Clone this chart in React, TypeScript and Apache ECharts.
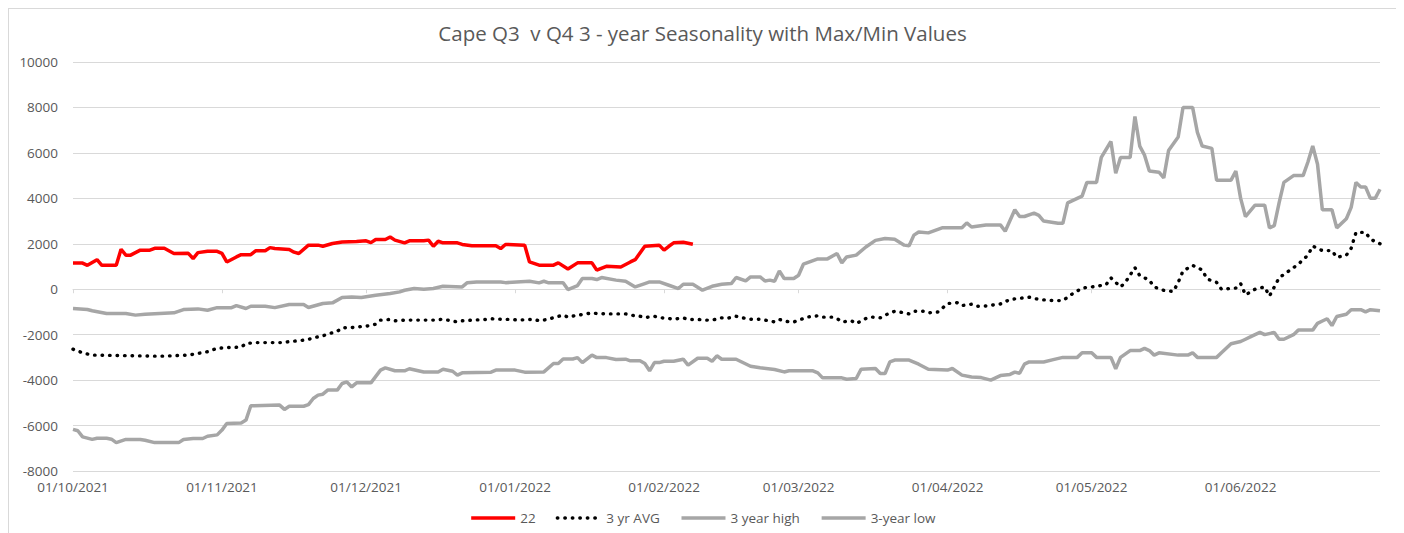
import React, { useEffect, useRef } from "react";
import * as echarts from "echarts";

const titleText = "Cape Q3  v Q4 3 - year Seasonality with Max/Min Values";
const seriesNames = ["22", "3 yr AVG", "3 year high", "3-year low"];
const yTicks = { min: -8000, max: 10000, interval: 2000 };

// daily categories 01/10/2021 .. 30/06/2022
const categories: string[] = [];
for (let i = 0; i < 273; i++) {
  const dt = new Date(Date.UTC(2021, 9, 1 + i));
  const dd = String(dt.getUTCDate()).padStart(2, "0");
  const mm = String(dt.getUTCMonth() + 1).padStart(2, "0");
  categories.push(`${dd}/${mm}/${dt.getUTCFullYear()}`);
}

const s22: [string, number][] = [
  ["01/10/2021", 1150], ["03/10/2021", 1150], ["04/10/2021", 1050], ["06/10/2021", 1300],
  ["07/10/2021", 1050], ["10/10/2021", 1050], ["11/10/2021", 1760], ["12/10/2021", 1500],
  ["13/10/2021", 1500], ["15/10/2021", 1720], ["17/10/2021", 1720], ["18/10/2021", 1800],
  ["20/10/2021", 1800], ["22/10/2021", 1570], ["25/10/2021", 1580], ["26/10/2021", 1350],
  ["27/10/2021", 1610], ["29/10/2021", 1670], ["31/10/2021", 1670], ["01/11/2021", 1580],
  ["02/11/2021", 1200], ["04/11/2021", 1420], ["05/11/2021", 1520], ["07/11/2021", 1520],
  ["08/11/2021", 1690], ["10/11/2021", 1690], ["11/11/2021", 1830], ["12/11/2021", 1790],
  ["15/11/2021", 1750], ["16/11/2021", 1630], ["17/11/2021", 1570], ["19/11/2021", 1940],
  ["21/11/2021", 1940], ["22/11/2021", 1890], ["24/11/2021", 2010], ["26/11/2021", 2080],
  ["29/11/2021", 2100], ["01/12/2021", 2130], ["02/12/2021", 2050], ["03/12/2021", 2190],
  ["05/12/2021", 2190], ["06/12/2021", 2300], ["07/12/2021", 2160], ["09/12/2021", 2040],
  ["10/12/2021", 2130], ["13/12/2021", 2130], ["14/12/2021", 2160], ["15/12/2021", 1890],
  ["16/12/2021", 2110], ["17/12/2021", 2040], ["20/12/2021", 2040], ["21/12/2021", 1970],
  ["23/12/2021", 1910], ["28/12/2021", 1910], ["29/12/2021", 1790], ["30/12/2021", 1970],
  ["03/01/2022", 1940], ["04/01/2022", 1200], ["06/01/2022", 1060], ["09/01/2022", 1060],
  ["10/01/2022", 1160], ["12/01/2022", 890], ["14/01/2022", 1160], ["17/01/2022", 1160],
  ["18/01/2022", 840], ["20/01/2022", 1010], ["23/01/2022", 980], ["25/01/2022", 1200],
  ["26/01/2022", 1300], ["28/01/2022", 1890], ["31/01/2022", 1940], ["01/02/2022", 1720],
  ["02/02/2022", 1890], ["03/02/2022", 2040], ["05/02/2022", 2070], ["07/02/2022", 1980],
];

const sAvg: [string, number][] = [
  ["01/10/2021", -2640], ["03/10/2021", -2800], ["05/10/2021", -2900], ["11/10/2021", -2920],
  ["19/10/2021", -2950], ["25/10/2021", -2900], ["29/10/2021", -2750], ["31/10/2021", -2600],
  ["02/11/2021", -2570], ["05/11/2021", -2550], ["06/11/2021", -2390], ["08/11/2021", -2350],
  ["14/11/2021", -2350], ["15/11/2021", -2300], ["17/11/2021", -2270], ["19/11/2021", -2210],
  ["20/11/2021", -2140], ["22/11/2021", -2050], ["23/11/2021", -1980], ["25/11/2021", -1850],
  ["26/11/2021", -1700], ["28/11/2021", -1690], ["29/11/2021", -1660], ["01/12/2021", -1630],
  ["03/12/2021", -1540], ["04/12/2021", -1360], ["06/12/2021", -1330], ["07/12/2021", -1390],
  ["09/12/2021", -1360], ["15/12/2021", -1360], ["17/12/2021", -1320], ["18/12/2021", -1360],
  ["20/12/2021", -1440], ["21/12/2021", -1390], ["23/12/2021", -1360], ["26/12/2021", -1330],
  ["27/12/2021", -1300], ["29/12/2021", -1320], ["31/12/2021", -1330], ["02/01/2022", -1360],
  ["03/01/2022", -1340], ["05/01/2022", -1330], ["06/01/2022", -1390], ["08/01/2022", -1320],
  ["09/01/2022", -1250], ["11/01/2022", -1140], ["12/01/2022", -1230], ["14/01/2022", -1140],
  ["15/01/2022", -1115], ["17/01/2022", -1040], ["18/01/2022", -1070], ["20/01/2022", -1085],
  ["22/01/2022", -1085], ["24/01/2022", -1085], ["25/01/2022", -1140], ["27/01/2022", -1190],
  ["28/01/2022", -1250], ["30/01/2022", -1190], ["31/01/2022", -1250], ["02/02/2022", -1290],
  ["03/02/2022", -1320], ["05/02/2022", -1260], ["06/02/2022", -1330], ["08/02/2022", -1330],
  ["10/02/2022", -1360], ["11/02/2022", -1360], ["13/02/2022", -1260], ["14/02/2022", -1290],
  ["16/02/2022", -1190], ["18/02/2022", -1290], ["19/02/2022", -1320], ["21/02/2022", -1320],
  ["22/02/2022", -1360], ["24/02/2022", -1440], ["25/02/2022", -1330], ["27/02/2022", -1440],
  ["28/02/2022", -1440], ["02/03/2022", -1290], ["03/03/2022", -1220], ["05/03/2022", -1170],
  ["06/03/2022", -1230], ["08/03/2022", -1230], ["09/03/2022", -1290], ["10/03/2022", -1440],
  ["12/03/2022", -1390], ["13/03/2022", -1510], ["15/03/2022", -1290], ["16/03/2022", -1220],
  ["18/03/2022", -1260], ["19/03/2022", -1140], ["21/03/2022", -970], ["22/03/2022", -1000],
  ["24/03/2022", -1085], ["25/03/2022", -970], ["27/03/2022", -970], ["28/03/2022", -1040],
  ["30/03/2022", -1000], ["31/03/2022", -820], ["01/04/2022", -630], ["03/04/2022", -590],
  ["04/04/2022", -720], ["06/04/2022", -660], ["07/04/2022", -750], ["09/04/2022", -735],
  ["12/04/2022", -650], ["14/04/2022", -450], ["16/04/2022", -400], ["18/04/2022", -350],
  ["20/04/2022", -450], ["23/04/2022", -500], ["25/04/2022", -500], ["27/04/2022", -200],
  ["29/04/2022", 50], ["01/05/2022", 100], ["04/05/2022", 200], ["05/05/2022", 500],
  ["07/05/2022", 100], ["08/05/2022", 300], ["10/05/2022", 950], ["11/05/2022", 600],
  ["13/05/2022", 400], ["14/05/2022", 100], ["16/05/2022", -50], ["18/05/2022", -100],
  ["19/05/2022", 300], ["20/05/2022", 800], ["22/05/2022", 1050], ["24/05/2022", 850],
  ["25/05/2022", 450], ["27/05/2022", 300], ["28/05/2022", 0], ["31/05/2022", 50],
  ["01/06/2022", 250], ["02/06/2022", -250], ["04/06/2022", 0], ["06/06/2022", 100],
  ["07/06/2022", -300], ["09/06/2022", 500], ["11/06/2022", 800], ["13/06/2022", 1100],
  ["15/06/2022", 1500], ["16/06/2022", 1900], ["18/06/2022", 1700], ["20/06/2022", 1700],
  ["21/06/2022", 1400], ["23/06/2022", 1500], ["24/06/2022", 1800], ["25/06/2022", 2500],
  ["27/06/2022", 2500], ["28/06/2022", 2200], ["30/06/2022", 2000],
];

const sHigh: [string, number][] = [
  ["01/10/2021", -850], ["04/10/2021", -895], ["05/10/2021", -950], ["08/10/2021", -1070],
  ["12/10/2021", -1070], ["14/10/2021", -1140], ["16/10/2021", -1100], ["19/10/2021", -1070],
  ["22/10/2021", -1040], ["24/10/2021", -895], ["27/10/2021", -865], ["29/10/2021", -925],
  ["31/10/2021", -810], ["03/11/2021", -810], ["04/11/2021", -720], ["06/11/2021", -850],
  ["07/11/2021", -750], ["10/11/2021", -750], ["12/11/2021", -810], ["15/11/2021", -675],
  ["18/11/2021", -675], ["19/11/2021", -805], ["22/11/2021", -630], ["24/11/2021", -600],
  ["26/11/2021", -365], ["28/11/2021", -340], ["30/11/2021", -365], ["03/12/2021", -264],
  ["06/12/2021", -190], ["08/12/2021", -117], ["09/12/2021", -44], ["11/12/2021", 30],
  ["13/12/2021", 0], ["15/12/2021", 30], ["17/12/2021", 130], ["21/12/2021", 100],
  ["22/12/2021", 280], ["24/12/2021", 320], ["29/12/2021", 320], ["30/12/2021", 290],
  ["04/01/2022", 350], ["06/01/2022", 280], ["07/01/2022", 350], ["08/01/2022", 280],
  ["11/01/2022", 290], ["12/01/2022", -15], ["14/01/2022", 160], ["15/01/2022", 470],
  ["17/01/2022", 470], ["18/01/2022", 425], ["19/01/2022", 515], ["22/01/2022", 400],
  ["24/01/2022", 350], ["26/01/2022", 100], ["28/01/2022", 250], ["29/01/2022", 320],
  ["31/01/2022", 320], ["02/02/2022", 175], ["04/02/2022", 30], ["05/02/2022", 220],
  ["07/02/2022", 220], ["09/02/2022", -44], ["11/02/2022", 130], ["13/02/2022", 220],
  ["15/02/2022", 250], ["16/02/2022", 515], ["18/02/2022", 365], ["19/02/2022", 540],
  ["21/02/2022", 540], ["22/02/2022", 365], ["23/02/2022", 400], ["24/02/2022", 350],
  ["25/02/2022", 805], ["26/02/2022", 470], ["28/02/2022", 470], ["01/03/2022", 615],
  ["02/03/2022", 1100], ["05/03/2022", 1335], ["07/03/2022", 1335], ["09/03/2022", 1570],
  ["10/03/2022", 1160], ["11/03/2022", 1420], ["13/03/2022", 1500], ["15/03/2022", 1860],
  ["17/03/2022", 2150], ["19/03/2022", 2230], ["21/03/2022", 2200], ["23/03/2022", 1940],
  ["24/03/2022", 1910], ["25/03/2022", 2380], ["26/03/2022", 2520], ["28/03/2022", 2480],
  ["31/03/2022", 2710], ["04/04/2022", 2710], ["05/04/2022", 2920], ["06/04/2022", 2740],
  ["09/04/2022", 2830], ["12/04/2022", 2830], ["13/04/2022", 2550], ["15/04/2022", 3500],
  ["16/04/2022", 3200], ["17/04/2022", 3200], ["19/04/2022", 3350], ["20/04/2022", 3250],
  ["21/04/2022", 3000], ["24/04/2022", 2900], ["25/04/2022", 2900], ["26/04/2022", 3800],
  ["28/04/2022", 4000], ["29/04/2022", 4100], ["30/04/2022", 4700], ["02/05/2022", 4700],
  ["03/05/2022", 5800], ["05/05/2022", 6500], ["06/05/2022", 5100], ["07/05/2022", 5800],
  ["09/05/2022", 5800], ["10/05/2022", 7600], ["11/05/2022", 6300], ["12/05/2022", 5900],
  ["13/05/2022", 5200], ["15/05/2022", 5150], ["16/05/2022", 4900], ["17/05/2022", 6100],
  ["19/05/2022", 6700], ["20/05/2022", 8000], ["22/05/2022", 8000], ["23/05/2022", 6900],
  ["24/05/2022", 6300], ["26/05/2022", 6200], ["27/05/2022", 4800], ["30/05/2022", 4800],
  ["31/05/2022", 5200], ["01/06/2022", 4000], ["02/06/2022", 3200], ["04/06/2022", 3700],
  ["06/06/2022", 3700], ["07/06/2022", 2700], ["08/06/2022", 2800], ["09/06/2022", 3800],
  ["10/06/2022", 4700], ["12/06/2022", 5000], ["14/06/2022", 5000], ["15/06/2022", 5600],
  ["16/06/2022", 6300], ["17/06/2022", 5500], ["18/06/2022", 3500], ["20/06/2022", 3500],
  ["21/06/2022", 2700], ["23/06/2022", 3100], ["24/06/2022", 3600], ["25/06/2022", 4700],
  ["26/06/2022", 4500], ["27/06/2022", 4500], ["28/06/2022", 4000], ["29/06/2022", 4000],
  ["30/06/2022", 4400],
];

const sLow: [string, number][] = [
  ["01/10/2021", -6170], ["02/10/2021", -6230], ["03/10/2021", -6500], ["05/10/2021", -6610],
  ["06/10/2021", -6560], ["08/10/2021", -6560], ["09/10/2021", -6600], ["10/10/2021", -6750],
  ["12/10/2021", -6610], ["15/10/2021", -6610], ["16/10/2021", -6645], ["18/10/2021", -6750],
  ["23/10/2021", -6750], ["24/10/2021", -6610], ["26/10/2021", -6570], ["28/10/2021", -6570],
  ["29/10/2021", -6470], ["31/10/2021", -6410], ["01/11/2021", -6200], ["02/11/2021", -5910],
  ["05/11/2021", -5890], ["06/11/2021", -5760], ["07/11/2021", -5130], ["13/11/2021", -5100],
  ["14/11/2021", -5290], ["15/11/2021", -5150], ["18/11/2021", -5150], ["19/11/2021", -5080],
  ["20/11/2021", -4810], ["21/11/2021", -4660], ["22/11/2021", -4620], ["23/11/2021", -4440],
  ["25/11/2021", -4440], ["26/11/2021", -4150], ["27/11/2021", -4080], ["28/11/2021", -4300],
  ["29/11/2021", -4120], ["02/12/2021", -4120], ["04/12/2021", -3560], ["05/12/2021", -3460],
  ["07/12/2021", -3590], ["09/12/2021", -3590], ["10/12/2021", -3500], ["13/12/2021", -3640],
  ["16/12/2021", -3640], ["17/12/2021", -3520], ["19/12/2021", -3610], ["20/12/2021", -3780],
  ["21/12/2021", -3680], ["27/12/2021", -3650], ["28/12/2021", -3560], ["01/01/2022", -3560],
  ["03/01/2022", -3650], ["07/01/2022", -3640], ["09/01/2022", -3270], ["10/01/2022", -3270],
  ["11/01/2022", -3070], ["13/01/2022", -3070], ["14/01/2022", -3010], ["15/01/2022", -3230],
  ["17/01/2022", -2900], ["18/01/2022", -3010], ["20/01/2022", -3010], ["22/01/2022", -3090],
  ["24/01/2022", -3080], ["25/01/2022", -3150], ["27/01/2022", -3150], ["28/01/2022", -3270],
  ["29/01/2022", -3590], ["30/01/2022", -3230], ["31/01/2022", -3230], ["01/02/2022", -3170],
  ["03/02/2022", -3170], ["05/02/2022", -3080], ["06/02/2022", -3340], ["08/02/2022", -3040],
  ["10/02/2022", -3040], ["11/02/2022", -3170], ["12/02/2022", -2930], ["13/02/2022", -3080],
  ["16/02/2022", -3080], ["19/02/2022", -3390], ["21/02/2022", -3460], ["24/02/2022", -3530],
  ["26/02/2022", -3640], ["27/02/2022", -3590], ["04/03/2022", -3590], ["05/03/2022", -3680],
  ["06/03/2022", -3900], ["10/03/2022", -3900], ["11/03/2022", -3960], ["13/03/2022", -3930],
  ["14/03/2022", -3520], ["17/03/2022", -3490], ["18/03/2022", -3710], ["19/03/2022", -3710],
  ["20/03/2022", -3200], ["21/03/2022", -3120], ["24/03/2022", -3120], ["26/03/2022", -3300],
  ["28/03/2022", -3520], ["01/04/2022", -3560], ["02/04/2022", -3490], ["04/04/2022", -3780],
  ["06/04/2022", -3860], ["08/04/2022", -3890], ["10/04/2022", -4000], ["11/04/2022", -3900],
  ["12/04/2022", -3800], ["14/04/2022", -3750], ["15/04/2022", -3650], ["16/04/2022", -3700],
  ["17/04/2022", -3300], ["18/04/2022", -3200], ["21/04/2022", -3200], ["23/04/2022", -3100],
  ["25/04/2022", -3000], ["28/04/2022", -3000], ["29/04/2022", -2800], ["01/05/2022", -2800],
  ["02/05/2022", -3000], ["05/05/2022", -3000], ["06/05/2022", -3500], ["07/05/2022", -3000],
  ["09/05/2022", -2700], ["11/05/2022", -2700], ["12/05/2022", -2600], ["13/05/2022", -2700],
  ["14/05/2022", -2900], ["15/05/2022", -2800], ["19/05/2022", -2900], ["21/05/2022", -2900],
  ["22/05/2022", -2800], ["23/05/2022", -3000], ["27/05/2022", -3000], ["28/05/2022", -2800],
  ["29/05/2022", -2600], ["30/05/2022", -2400], ["01/06/2022", -2300], ["02/06/2022", -2200],
  ["03/06/2022", -2100], ["05/06/2022", -1900], ["06/06/2022", -2000], ["08/06/2022", -1900],
  ["09/06/2022", -2200], ["10/06/2022", -2200], ["12/06/2022", -2000], ["13/06/2022", -1800],
  ["16/06/2022", -1800], ["17/06/2022", -1500], ["18/06/2022", -1400], ["19/06/2022", -1300],
  ["20/06/2022", -1600], ["21/06/2022", -1200], ["23/06/2022", -1100], ["24/06/2022", -900],
  ["26/06/2022", -900], ["27/06/2022", -1000], ["28/06/2022", -900], ["30/06/2022", -950],
];

const FONT = "'Open Sans', 'Liberation Sans', sans-serif";
const TEXT = "#595959";
const GRID = "#d9d9d9";
const GREY = "#a6a6a6";

const isMonthStart = (_i: number, v: string) => v.startsWith("01/");

export default function App() {
  const ref = useRef<HTMLDivElement>(null);
  useEffect(() => {
    if (!ref.current) return;
    const chart = echarts.init(ref.current, undefined, { renderer: "svg" });
    chart.setOption({
      animation: false,
      backgroundColor: "#ffffff",
      title: {
        text: titleText,
        left: "center",
        top: 8,
        textStyle: { fontFamily: FONT, fontSize: 20.5, fontWeight: "normal", color: TEXT },
      },
      legend: {
        data: seriesNames,
        left: "center",
        top: 497,
        itemWidth: 44,
        itemHeight: 12,
        itemGap: 20,
        itemStyle: { opacity: 0 },
        lineStyle: { width: "inherit" },
        textStyle: { fontFamily: FONT, fontSize: 13.5, color: TEXT },
      },
      grid: { left: 64, top: 53, width: 1307, height: 409, containLabel: false },
      xAxis: [
        {
          type: "category",
          data: categories,
          boundaryGap: false,
          position: "bottom",
          axisLine: { show: false, onZero: false },
          axisTick: { show: false },
          splitLine: { show: false },
          axisLabel: {
            interval: isMonthStart,
            margin: 9,
            color: TEXT,
            fontFamily: FONT,
            fontSize: 13.5,
          },
        },
        {
          type: "category",
          data: categories,
          boundaryGap: false,
          position: "bottom",
          axisLine: { show: true, onZero: true, lineStyle: { color: GRID, width: 1 } },
          axisTick: { show: true, interval: isMonthStart, length: 4, lineStyle: { color: GRID } },
          axisLabel: { show: false },
          splitLine: { show: false },
        },
      ],
      yAxis: {
        type: "value",
        min: yTicks.min,
        max: yTicks.max,
        interval: yTicks.interval,
        axisLine: { show: false },
        axisTick: { show: false },
        splitLine: { show: true, lineStyle: { color: GRID, width: 1 } },
        axisLabel: {
          color: TEXT,
          fontFamily: FONT,
          fontSize: 13.5,
          margin: 15,
          formatter: (v: number) => String(v),
        },
      },
      series: [
        {
          name: seriesNames[0],
          type: "line",
          data: s22,
          showSymbol: false,
          symbol: "none",
          z: 5,
          lineStyle: { color: "#ff0000", width: 3.5 },
          itemStyle: { color: "#ff0000" },
        },
        {
          name: seriesNames[1],
          type: "line",
          data: sAvg,
          showSymbol: false,
          symbol: "none",
          z: 4,
          lineStyle: { color: "#000000", width: 3.4, type: [0.5, 7], cap: "round" },
          itemStyle: { color: "#000000" },
        },
        {
          name: seriesNames[2],
          type: "line",
          data: sHigh,
          showSymbol: false,
          symbol: "none",
          z: 3,
          lineStyle: { color: GREY, width: 3.5 },
          itemStyle: { color: GREY },
        },
        {
          name: seriesNames[3],
          type: "line",
          data: sLow,
          showSymbol: false,
          symbol: "none",
          z: 3,
          lineStyle: { color: GREY, width: 3.5 },
          itemStyle: { color: GREY },
        },
      ],
    });
    return () => chart.dispose();
  }, []);

  return (
    <div
      style={{
        width: 1389,
        height: 527,
        boxSizing: "border-box",
        border: "1px solid #d9d9d9",
        background: "#fff",
      }}
    >
      <div ref={ref} style={{ width: 1387, height: 525 }} />
    </div>
  );
}
